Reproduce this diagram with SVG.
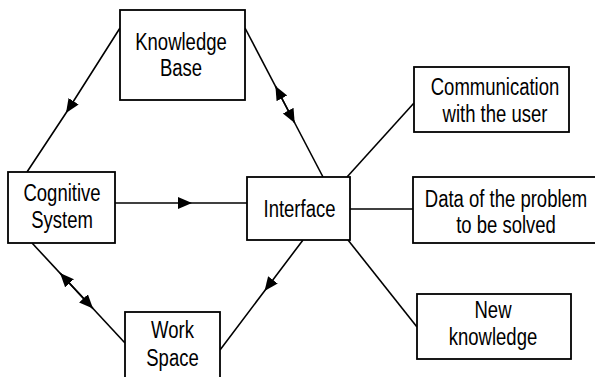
<svg xmlns="http://www.w3.org/2000/svg" width="595" height="377" viewBox="0 0 595 377">
  <style>
    .box { fill: #fff; stroke: #000; stroke-width: 1.8; }
    .lbl { font-family: "Liberation Sans", Arial, sans-serif; font-size: 18.5px; fill: #000; text-anchor: middle; }
    .con { fill: none; stroke: #000; stroke-width: 1.6; }
  </style>
  <defs>
    <marker id="ah" markerUnits="userSpaceOnUse" markerWidth="15" markerHeight="13" refX="14" refY="6" orient="auto">
      <path d="M0,0 L14,6 L0,12 z" fill="#000"/>
    </marker>
  </defs>
  <rect width="595" height="377" fill="#fff"/>

  <g id="connectors">
    <path class="con" d="M120,28 L66,113 L27,172" marker-mid="url(#ah)"/>
    <path class="con" d="M323,177 L275.4,86" marker-end="url(#ah)"/>
    <path class="con" d="M245,28 L294.7,123" marker-end="url(#ah)"/>
    <path class="con" d="M115,203 L192,203 L247,203" marker-mid="url(#ah)"/>
    <path class="con" d="M125,343 L60,273" marker-end="url(#ah)"/>
    <path class="con" d="M32,243 L93,308.6" marker-end="url(#ah)"/>
    <path class="con" d="M303,240 L264.5,291 L220,350" marker-mid="url(#ah)"/>
    <path class="con" d="M347,177 L414,103"/>
    <path class="con" d="M350,209 L413,209"/>
    <path class="con" d="M348,240 L417,327"/>
  </g>

  <g id="knowledge-base">
    <rect class="box" x="120" y="10" width="125" height="90"/>
    <text class="lbl" transform="translate(181,50) scale(1,1.25)">Knowledge</text>
    <text class="lbl" transform="translate(181,76) scale(1,1.25)">Base</text>
  </g>
  <g id="cognitive-system">
    <rect class="box" x="8" y="172" width="107" height="71"/>
    <text class="lbl" transform="translate(62,201) scale(1,1.25)">Cognitive</text>
    <text class="lbl" transform="translate(62,228) scale(1,1.25)">System</text>
  </g>
  <g id="interface">
    <rect class="box" x="247" y="177" width="103" height="63"/>
    <text class="lbl" transform="translate(299.5,217) scale(1,1.25)">Interface</text>
  </g>
  <g id="work-space">
    <rect class="box" x="125" y="312" width="95" height="75"/>
    <text class="lbl" transform="translate(172.5,338) scale(1,1.25)">Work</text>
    <text class="lbl" transform="translate(172.5,366) scale(1,1.25)">Space</text>
  </g>
  <g id="communication">
    <rect class="box" x="414" y="67" width="155" height="65"/>
    <text class="lbl" transform="translate(495,95) scale(1,1.25)">Communication</text>
    <text class="lbl" transform="translate(495,122) scale(1,1.25)">with the user</text>
  </g>
  <g id="data">
    <rect class="box" x="413" y="177" width="190" height="66"/>
    <text class="lbl" transform="translate(506,207) scale(1,1.25)">Data of the problem</text>
    <text class="lbl" transform="translate(506,233) scale(1,1.25)">to be solved</text>
  </g>
  <g id="new-knowledge">
    <rect class="box" x="417" y="294" width="154" height="65"/>
    <text class="lbl" transform="translate(493,318) scale(1,1.25)">New</text>
    <text class="lbl" transform="translate(493,345) scale(1,1.25)">knowledge</text>
  </g>
</svg>
